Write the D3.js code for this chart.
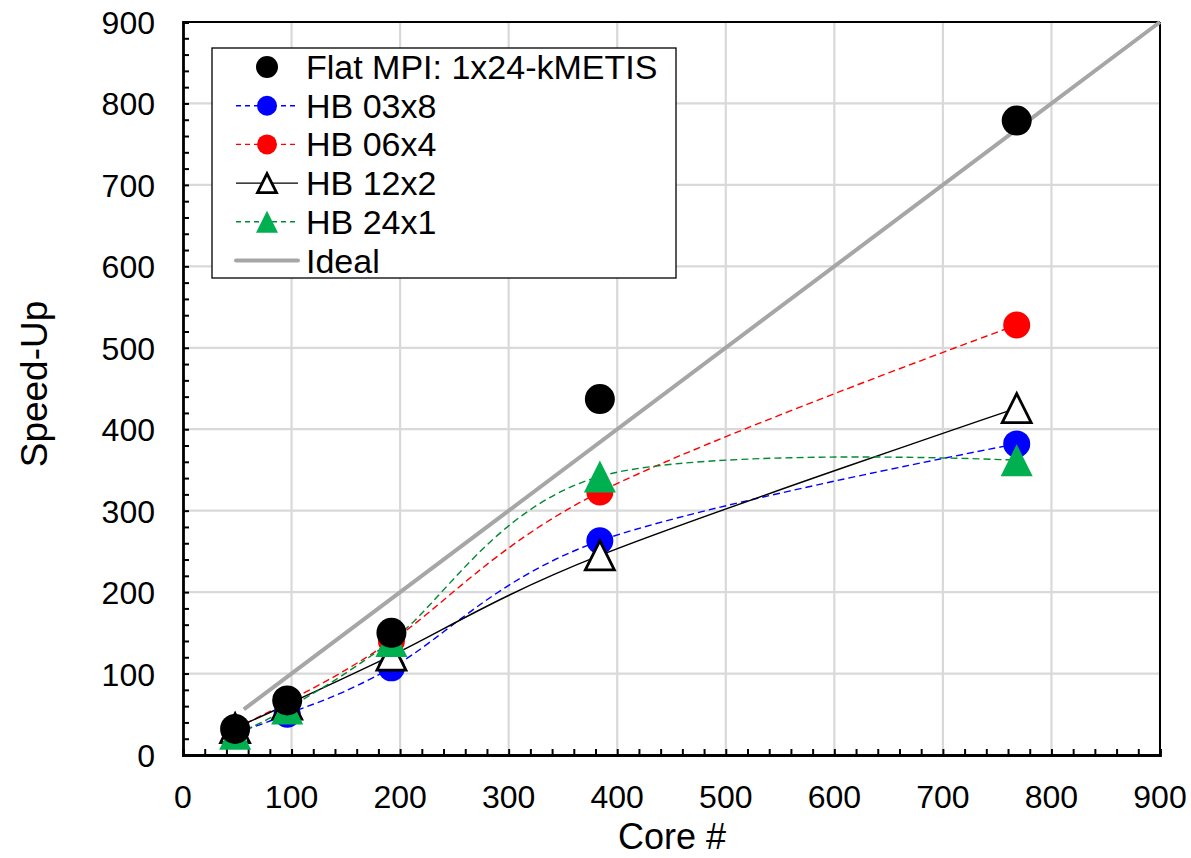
<!DOCTYPE html>
<html>
<head>
<meta charset="utf-8">
<script src="https://cdn.jsdelivr.net/npm/d3@7/dist/d3.min.js"></script>
<style>
  body { margin: 0; background: #fff; }
  svg text { font-family: "Liberation Sans", Arial, sans-serif; fill: #000; }
</style>
</head>
<body>
<script>
// data
var cores = [48, 96, 192, 384, 768];
var flatMPI = [32, 67, 150, 437, 779];
var hb03x8 = [27, 50, 107, 263, 382];
var hb06x4 = [33, 65, 140, 323, 528];
var hb12x2 = [33, 62, 122, 245, 426];
var hb24x1 = [26, 57, 140, 342, 362];
var idealX = [56, 900];
var xTicks = [0, 100, 200, 300, 400, 500, 600, 700, 800, 900];
var yTicks = [0, 100, 200, 300, 400, 500, 600, 700, 800, 900];

var W = 1191, H = 858;
var margin = {top: 22, right: 31, bottom: 103, left: 183};

var svg = d3.select("body").append("svg")
    .attr("width", W).attr("height", H);

// scales
var x = d3.scaleLinear().domain([0, 900]).range([margin.left, W - margin.right]);
var y = d3.scaleLinear().domain([0, 900]).range([H - margin.bottom, margin.top]);

// gridlines
svg.append("g").selectAll("line.v").data(xTicks.slice(1))
  .enter().append("line")
    .attr("x1", function(d) { return x(d); }).attr("x2", function(d) { return x(d); })
    .attr("y1", y(0)).attr("y2", y(900))
    .attr("stroke", "#d9d9d9").attr("stroke-width", 2.2);
svg.append("g").selectAll("line.h").data(yTicks.slice(1))
  .enter().append("line")
    .attr("x1", x(0)).attr("x2", x(900))
    .attr("y1", function(d) { return y(d); }).attr("y2", function(d) { return y(d); })
    .attr("stroke", "#d9d9d9").attr("stroke-width", 2.2);

// frame on top and right
svg.append("line").attr("x1", x(0)).attr("x2", x(900)).attr("y1", y(900)).attr("y2", y(900))
    .attr("stroke", "#000").attr("stroke-width", 2);
svg.append("line").attr("x1", x(900)).attr("x2", x(900)).attr("y1", y(900)).attr("y2", y(0))
    .attr("stroke", "#000").attr("stroke-width", 2);

// axes (ticks inside)
var xAxis = svg.append("g")
    .attr("transform", "translate(0," + y(0) + ")")
    .call(d3.axisBottom(x).tickValues(d3.range(0, 901, 20)).tickSize(-6).tickFormat(""));
var yAxis = svg.append("g")
    .attr("transform", "translate(" + x(0) + ",0)")
    .call(d3.axisLeft(y).tickValues(d3.range(0, 901, 20)).tickSize(-6).tickFormat(""));
[xAxis, yAxis].forEach(function(a) {
  a.select(".domain").attr("stroke", "#000").attr("stroke-width", 2.8);
  a.selectAll(".tick line").attr("stroke", "#000").attr("stroke-width", 2);
});

// tick labels
svg.append("g").selectAll("text").data(xTicks)
  .enter().append("text")
    .attr("x", function(d) { return x(d); })
    .attr("y", y(0) + 53)
    .attr("text-anchor", "middle")
    .style("font-size", "32px")
    .text(function(d) { return d; });
svg.append("g").selectAll("text").data(yTicks)
  .enter().append("text")
    .attr("x", x(0) - 28)
    .attr("y", function(d) { return y(d) + 12; })
    .attr("text-anchor", "end")
    .style("font-size", "32px")
    .text(function(d) { return d; });

// axis titles
svg.append("text")
    .attr("x", 672).attr("y", 849)
    .attr("text-anchor", "middle").style("font-size", "36px")
    .text("Core #");
svg.append("text")
    .attr("transform", "translate(47,384)rotate(-90)")
    .attr("text-anchor", "middle").style("font-size", "37px")
    .text("Speed-Up");

// ideal line
svg.append("path")
    .datum(idealX)
    .attr("fill", "none").attr("stroke", "#a6a6a6").attr("stroke-width", 4)
    .attr("d", d3.line().x(function(d) { return x(d); }).y(function(d) { return y(d); }));

var series = [
  {name: "HB 03x8", vals: hb03x8, color: "#0000ff", dash: "7,4", marker: "circle", fill: "#0000ff"},
  {name: "HB 06x4", vals: hb06x4, color: "#ff0000", dash: "7,4", marker: "circle", fill: "#ff0000"},
  {name: "HB 12x2", vals: hb12x2, color: "#000000", dash: null, marker: "triangle", fill: "#ffffff"},
  {name: "HB 24x1", vals: hb24x1, color: "#008a32", dash: "7,4", marker: "triangle", fill: "#00b050"}
];

var line = d3.line()
    .x(function(d, i) { return x(cores[i]); })
    .y(function(d) { return y(d); })
    .curve(d3.curveCardinal.tension(0));

// size = marker width in px
function drawMarker(g, kind, cx, cy, fill, size) {
  if (kind === "circle") {
    g.append("circle").attr("cx", cx).attr("cy", cy).attr("r", size / 2)
      .attr("fill", fill);
  } else {
    var open = fill === "#ffffff";
    var s = open ? size - 3 : size, h = s;
    var pts = [[cx, cy - h / 2], [cx - s / 2, cy + h / 2], [cx + s / 2, cy + h / 2]];
    var p = g.append("path").attr("d", "M" + pts.join("L") + "Z").attr("fill", fill);
    if (open) p.attr("stroke", "#000").attr("stroke-width", 2.8).attr("stroke-linejoin", "miter");
  }
}

series.forEach(function(s) {
  svg.append("path")
      .datum(s.vals)
      .attr("fill", "none").attr("stroke", s.color).attr("stroke-width", 1.4)
      .attr("stroke-dasharray", s.dash)
      .attr("d", line);
});
series.forEach(function(s) {
  var g = svg.append("g");
  var size = s.marker === "circle" ? 27 : 32;
  s.vals.forEach(function(v, i) { drawMarker(g, s.marker, x(cores[i]), y(v), s.fill, size); });
});

// flat MPI circles
svg.append("g").selectAll("circle").data(flatMPI)
  .enter().append("circle")
    .attr("cx", function(d, i) { return x(cores[i]); })
    .attr("cy", function(d) { return y(d); })
    .attr("r", 15).attr("fill", "#000");

// legend
var leg = svg.append("g");
leg.append("rect").attr("x", 212).attr("y", 48).attr("width", 464).attr("height", 230)
    .attr("fill", "#fff").attr("stroke", "#000").attr("stroke-width", 1.3);
var rowY = d3.range(6).map(function(i) { return 67 + i * 38.7; });
var mx = 267;

drawMarker(leg, "circle", mx, rowY[0], "#000", 22);
series.forEach(function(s, i) {
  leg.append("line").attr("x1", 236).attr("x2", 298).attr("y1", rowY[i + 1]).attr("y2", rowY[i + 1])
      .attr("stroke", s.color).attr("stroke-width", 1.4).attr("stroke-dasharray", s.dash ? "5,4" : null);
  drawMarker(leg, s.marker, mx, rowY[i + 1], s.fill, s.marker === "circle" ? 20 : 22);
});
leg.append("line").attr("x1", 236).attr("x2", 298).attr("y1", rowY[5]).attr("y2", rowY[5])
    .attr("stroke", "#a6a6a6").attr("stroke-width", 4).attr("stroke-linecap", "round");

var labels = ["Flat MPI: 1x24-kMETIS"].concat(series.map(function(s) { return s.name; })).concat(["Ideal"]);
leg.selectAll("text.lab").data(labels)
  .enter().append("text")
    .attr("x", 306).attr("y", function(d, i) { return rowY[i] + 12; })
    .style("font-size", "34px")
    .text(function(d) { return d; });
</script>
</body>
</html>
